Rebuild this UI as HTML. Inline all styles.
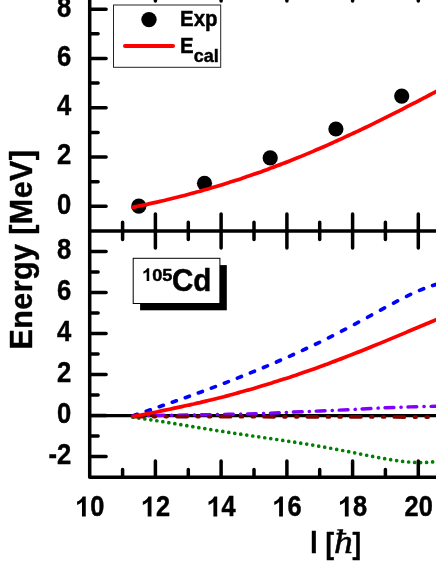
<!DOCTYPE html>
<html><head><meta charset="utf-8"><title>105Cd</title>
<style>html,body{margin:0;padding:0;background:#fff}body{width:436px;height:564px;overflow:hidden}svg{display:block;will-change:transform}</style></head>
<body>
<svg width="436" height="564" viewBox="0 0 436 564">
<rect width="436" height="564" fill="#fff"/>
<g font-family="Liberation Sans, sans-serif" font-weight="bold" fill="#000">
<g fill="none" stroke-linecap="round" stroke-linejoin="round">
<path d="M89.7 415.6H440" stroke="#000" stroke-width="3.3" stroke-linecap="butt"/>
<path d="M132.85 417.22h0.01M138.85 418.03h0.01M144.84 418.91h0.01M150.84 419.82h0.01M156.83 420.76h0.01M162.83 421.72h0.01M168.82 422.69h0.01M174.82 423.68h0.01M180.81 424.67h0.01M186.81 425.66h0.01M192.81 426.65h0.01M198.80 427.63h0.01M204.80 428.61h0.01M210.79 429.57h0.01M216.78 430.53h0.01M222.78 431.47h0.01M228.77 432.39h0.01M234.77 433.30h0.01M240.76 434.20h0.01M246.76 435.09h0.01M252.75 435.98h0.01M258.75 436.85h0.01M264.75 437.73h0.01M270.74 438.60h0.01M276.74 439.49h0.01M282.73 440.38h0.01M288.73 441.28h0.01M294.72 442.20h0.01M300.72 443.15h0.01M306.71 444.11h0.01M312.70 445.10h0.01M318.70 446.13h0.01M324.69 447.18h0.01M330.69 448.26h0.01M336.69 449.38h0.01M342.68 450.52h0.01M348.68 451.68h0.01M354.67 452.87h0.01M360.66 454.06h0.01M366.66 455.25h0.01M372.65 456.42h0.01M378.65 457.57h0.01M384.64 458.66h0.01M390.64 459.68h0.01M396.63 460.60h0.01M402.63 461.39h0.01M408.62 462.02h0.01M414.62 462.43h0.01M420.62 462.60h0.01M426.61 462.46h0.01M432.61 461.96h0.01M438.60 461.04h0.01M444.60 459.62h0.01" stroke="#008000" stroke-width="3.7"/>
<path d="M131.9 416.0 C137.4 415.9 152.3 415.5 165.0 415.3 C177.7 415.1 192.8 415.0 208.0 414.7 C223.2 414.4 242.3 414.1 256.0 413.7 C269.7 413.3 279.3 412.6 290.0 412.2 C300.7 411.8 310.0 411.4 320.0 411.0 C330.0 410.6 340.0 410.1 350.0 409.6 C360.0 409.1 370.0 408.4 380.0 408.0 C390.0 407.6 400.0 407.2 410.0 406.9 C420.0 406.6 435.0 406.3 440.0 406.2" stroke="#7f00ff" stroke-width="3.4" stroke-dasharray="8.9 7.03 0.3 6.73" stroke-dashoffset="-0.7"/>
<path d="M131.9 416.6 C143.2 416.6 175.3 416.6 200.0 416.6 C224.7 416.6 253.3 416.7 280.0 416.8 C306.7 416.9 333.3 416.9 360.0 416.9 C386.7 417.0 426.7 417.1 440.0 417.1" stroke="#800000" stroke-width="3.7" stroke-dasharray="10.1 10.0 1.8 10.0 1.8 9.75" stroke-dashoffset="-1.65"/>
<path d="M134.50 415.29L137.29 414.31M146.30 411.18L150.30 409.81M159.31 406.71L163.31 405.34M172.33 402.22L176.33 400.82M185.34 397.64L189.34 396.21M198.36 392.95L202.36 391.48M211.37 388.13L215.37 386.63M224.38 383.19L228.38 381.64M237.40 378.11L241.40 376.52M250.41 372.90L254.41 371.27M263.43 367.54L267.43 365.86M276.44 362.02L280.44 360.29M289.45 356.32L293.45 354.53M302.47 350.41L306.47 348.54M315.48 344.26L319.48 342.32M328.50 337.86L332.50 335.84M341.51 331.21L345.51 329.12M354.52 324.32L358.52 322.16M367.54 317.25L371.54 315.06M380.55 310.11L384.55 307.93M393.57 303.07L397.57 300.96M406.58 296.37L410.58 294.43M419.59 290.35L423.59 288.71M432.61 285.50L436.61 284.33M445.62 282.41L449.62 281.93" stroke="#0000ff" stroke-width="3.7"/>
<path d="M133.8 416.3 C134.8 416.1 137.8 415.5 139.8 415.2 C141.8 414.8 143.8 414.4 145.8 414.0 C147.8 413.6 149.8 413.2 151.8 412.8 C153.8 412.5 155.8 412.1 157.8 411.7 C159.8 411.3 161.8 410.9 163.8 410.4 C165.8 410.0 167.8 409.6 169.8 409.2 C171.8 408.8 173.8 408.4 175.8 407.9 C177.8 407.5 179.8 407.1 181.8 406.6 C183.8 406.2 185.8 405.8 187.8 405.3 C189.8 404.9 191.8 404.4 193.8 404.0 C195.8 403.5 197.8 403.0 199.8 402.6 C201.8 402.1 203.8 401.6 205.8 401.1 C207.8 400.7 209.8 400.2 211.8 399.7 C213.8 399.2 215.8 398.7 217.8 398.2 C219.8 397.7 221.8 397.2 223.8 396.7 C225.8 396.1 227.8 395.6 229.8 395.1 C231.8 394.5 233.8 394.0 235.8 393.5 C237.8 392.9 239.8 392.4 241.8 391.8 C243.8 391.3 245.8 390.7 247.8 390.1 C249.8 389.6 251.8 389.0 253.8 388.4 C255.8 387.8 257.8 387.2 259.8 386.6 C261.8 386.0 263.8 385.4 265.8 384.8 C267.8 384.2 269.8 383.6 271.8 383.0 C273.8 382.3 275.8 381.7 277.8 381.1 C279.8 380.4 281.8 379.8 283.8 379.1 C285.8 378.5 287.8 377.8 289.8 377.2 C291.8 376.5 293.8 375.8 295.8 375.2 C297.8 374.5 299.8 373.8 301.8 373.1 C303.8 372.4 305.8 371.7 307.8 371.0 C309.8 370.3 311.8 369.6 313.8 368.9 C315.8 368.2 317.8 367.5 319.8 366.7 C321.8 366.0 323.8 365.3 325.8 364.5 C327.8 363.8 329.8 363.0 331.8 362.3 C333.8 361.6 335.8 360.8 337.8 360.0 C339.8 359.3 341.8 358.5 343.8 357.7 C345.8 357.0 347.8 356.2 349.8 355.4 C351.8 354.6 353.8 353.8 355.8 353.0 C357.8 352.3 359.8 351.5 361.8 350.7 C363.8 349.9 365.8 349.1 367.8 348.3 C369.8 347.4 371.8 346.6 373.8 345.8 C375.8 345.0 377.8 344.2 379.8 343.4 C381.8 342.5 383.8 341.7 385.8 340.9 C387.8 340.1 389.8 339.2 391.8 338.4 C393.8 337.6 395.8 336.7 397.8 335.9 C399.8 335.0 401.8 334.2 403.8 333.4 C405.8 332.5 407.8 331.7 409.8 330.8 C411.8 330.0 413.8 329.1 415.8 328.3 C417.8 327.4 419.8 326.6 421.8 325.7 C423.8 324.9 425.8 324.0 427.8 323.2 C429.8 322.4 431.8 321.5 433.8 320.7 C435.8 319.8 438.4 318.7 439.8 318.1 C441.2 317.5 441.6 317.3 442.0 317.2" stroke="#ff0000" stroke-width="3.7"/>
</g>
<circle cx="138.8" cy="206.2" r="7.6"/>
<circle cx="204.5" cy="183.3" r="7.6"/>
<circle cx="270.2" cy="157.9" r="7.6"/>
<circle cx="335.9" cy="129.0" r="7.6"/>
<circle cx="401.7" cy="96.1" r="7.6"/>
<path d="M133.0 207.3 C134.0 207.1 137.0 206.4 139.0 206.0 C141.0 205.6 143.0 205.2 145.0 204.8 C147.0 204.3 149.0 203.9 151.0 203.4 C153.0 203.0 155.0 202.6 157.0 202.1 C159.0 201.6 161.0 201.2 163.0 200.7 C165.0 200.2 167.0 199.8 169.0 199.3 C171.0 198.8 173.0 198.3 175.0 197.8 C177.0 197.3 179.0 196.8 181.0 196.3 C183.0 195.8 185.0 195.3 187.0 194.7 C189.0 194.2 191.0 193.7 193.0 193.1 C195.0 192.6 197.0 192.0 199.0 191.5 C201.0 190.9 203.0 190.4 205.0 189.8 C207.0 189.2 209.0 188.6 211.0 188.0 C213.0 187.5 215.0 186.9 217.0 186.3 C219.0 185.7 221.0 185.1 223.0 184.4 C225.0 183.8 227.0 183.2 229.0 182.6 C231.0 181.9 233.0 181.3 235.0 180.6 C237.0 180.0 239.0 179.3 241.0 178.7 C243.0 178.0 245.0 177.3 247.0 176.6 C249.0 176.0 251.0 175.3 253.0 174.6 C255.0 173.9 257.0 173.2 259.0 172.5 C261.0 171.8 263.0 171.0 265.0 170.3 C267.0 169.6 269.0 168.8 271.0 168.1 C273.0 167.4 275.0 166.6 277.0 165.8 C279.0 165.1 281.0 164.3 283.0 163.5 C285.0 162.8 287.0 162.0 289.0 161.2 C291.0 160.4 293.0 159.6 295.0 158.8 C297.0 158.0 299.0 157.2 301.0 156.4 C303.0 155.5 305.0 154.7 307.0 153.9 C309.0 153.0 311.0 152.2 313.0 151.4 C315.0 150.5 317.0 149.6 319.0 148.8 C321.0 147.9 323.0 147.1 325.0 146.2 C327.0 145.3 329.0 144.4 331.0 143.5 C333.0 142.6 335.0 141.7 337.0 140.8 C339.0 139.9 341.0 139.0 343.0 138.1 C345.0 137.2 347.0 136.2 349.0 135.3 C351.0 134.4 353.0 133.4 355.0 132.5 C357.0 131.6 359.0 130.6 361.0 129.7 C363.0 128.7 365.0 127.7 367.0 126.8 C369.0 125.8 371.0 124.8 373.0 123.9 C375.0 122.9 377.0 121.9 379.0 120.9 C381.0 119.9 383.0 118.9 385.0 117.9 C387.0 116.9 389.0 115.9 391.0 114.9 C393.0 113.9 395.0 112.9 397.0 111.9 C399.0 110.9 401.0 109.8 403.0 108.8 C405.0 107.8 407.0 106.8 409.0 105.7 C411.0 104.7 413.0 103.7 415.0 102.6 C417.0 101.6 419.0 100.5 421.0 99.5 C423.0 98.4 425.0 97.4 427.0 96.3 C429.0 95.3 431.0 94.2 433.0 93.2 C435.0 92.1 437.5 90.8 439.0 90.0 C440.5 89.2 441.5 88.6 442.0 88.4" fill="none" stroke="#ff0000" stroke-width="3.7" stroke-linecap="round"/>
<g fill="none" stroke="#000" stroke-width="3.5" stroke-linecap="round" stroke-linejoin="round">
<path d="M89.7 -5V477.3H440"/>
<path d="M89.7 230.9H440" stroke-linecap="butt"/>
<path d="M89.7 206.3H106.1M89.7 181.7H98.1M89.7 157.0H106.1M89.7 132.4H98.1M89.7 107.7H106.1M89.7 83.1H98.1M89.7 58.5H106.1M89.7 33.8H98.1M89.7 9.2H106.1M89.7 456.6H106.1M89.7 436.1H98.1M89.7 415.6H106.1M89.7 395.1H98.1M89.7 374.6H106.1M89.7 354.1H98.1M89.7 333.6H106.1M89.7 313.1H98.1M89.7 292.6H106.1M89.7 272.1H98.1M89.7 251.6H106.1M122.6 222.3V239.5M122.6 477.3V469.4M155.4 213.9V247.9M155.4 477.3V460.9M155.4 -5V1.1M188.3 222.3V239.5M188.3 477.3V469.4M221.1 213.9V247.9M221.1 477.3V460.9M221.1 -5V1.1M254.0 222.3V239.5M254.0 477.3V469.4M286.9 213.9V247.9M286.9 477.3V460.9M286.9 -5V1.1M319.7 222.3V239.5M319.7 477.3V469.4M352.6 213.9V247.9M352.6 477.3V460.9M352.6 -5V1.1M385.4 222.3V239.5M385.4 477.3V469.4M418.3 213.9V247.9M418.3 477.3V460.9M418.3 -5V1.1"/>
</g>
<rect x="113.5" y="5" width="107.2" height="62.3" fill="#fff" stroke="#222" stroke-width="1"/>
<circle cx="149" cy="19.6" r="7.7"/>
<path d="M125.0 46.1H173.0" stroke="#ff0000" stroke-width="4.0" stroke-linecap="round"/>
<text transform="translate(180.1 26.1) scale(0.955 1)" font-size="21.4px" text-anchor="start" stroke="#000" stroke-width="0.45" stroke-linejoin="round">Exp</text>
<text transform="translate(180.1 53.0) scale(0.955 1)" font-size="21.4px" text-anchor="start" stroke="#000" stroke-width="0.45" stroke-linejoin="round">E</text>
<text transform="translate(193.8 61.8) scale(1.030 1)" font-size="17.5px" text-anchor="start" stroke="#000" stroke-width="0.45" stroke-linejoin="round">cal</text>
<rect x="140.1" y="265.1" width="86.7" height="45.2" fill="#000"/>
<rect x="133.2" y="258.3" width="86.7" height="45.2" fill="#fff" stroke="#000" stroke-width="1"/>
<path transform="translate(141.90 281.00) scale(0.00908 -0.00859)" d="M806 0H525V1059Q371 915 162 846V1101Q272 1137 401 1237.5T578 1472H806Z"/>
<text transform="translate(152.3 280.9) scale(1.060 1)" font-size="17.1px" text-anchor="start" stroke="#000" stroke-width="0.45" stroke-linejoin="round">05</text>
<text transform="translate(172.0 291.3) scale(0.964 1)" font-size="30.7px" text-anchor="start" stroke="#000" stroke-width="0.45" stroke-linejoin="round">Cd</text>
<text transform="translate(71.2 16.5) scale(0.870 1)" font-size="29.4px" text-anchor="end" stroke="#000" stroke-width="0.45" stroke-linejoin="round">8</text>
<text transform="translate(71.2 65.8) scale(0.870 1)" font-size="29.4px" text-anchor="end" stroke="#000" stroke-width="0.45" stroke-linejoin="round">6</text>
<text transform="translate(71.2 115.0) scale(0.870 1)" font-size="29.4px" text-anchor="end" stroke="#000" stroke-width="0.45" stroke-linejoin="round">4</text>
<text transform="translate(71.2 164.3) scale(0.870 1)" font-size="29.4px" text-anchor="end" stroke="#000" stroke-width="0.45" stroke-linejoin="round">2</text>
<text transform="translate(71.2 213.6) scale(0.870 1)" font-size="29.4px" text-anchor="end" stroke="#000" stroke-width="0.45" stroke-linejoin="round">0</text>
<text transform="translate(71.2 258.6) scale(0.870 1)" font-size="29.4px" text-anchor="end" stroke="#000" stroke-width="0.45" stroke-linejoin="round">8</text>
<text transform="translate(71.2 299.6) scale(0.870 1)" font-size="29.4px" text-anchor="end" stroke="#000" stroke-width="0.45" stroke-linejoin="round">6</text>
<text transform="translate(71.2 340.6) scale(0.870 1)" font-size="29.4px" text-anchor="end" stroke="#000" stroke-width="0.45" stroke-linejoin="round">4</text>
<text transform="translate(71.2 381.6) scale(0.870 1)" font-size="29.4px" text-anchor="end" stroke="#000" stroke-width="0.45" stroke-linejoin="round">2</text>
<text transform="translate(71.2 422.6) scale(0.870 1)" font-size="29.4px" text-anchor="end" stroke="#000" stroke-width="0.45" stroke-linejoin="round">0</text>
<text transform="translate(71.2 463.6) scale(0.870 1)" font-size="29.4px" text-anchor="end" stroke="#000" stroke-width="0.45" stroke-linejoin="round">-2</text>
<path transform="translate(74.90 516.40) scale(0.01348 -0.01348)" d="M806 0H525V1059Q371 915 162 846V1101Q272 1137 401 1237.5T578 1472H806Z"/>
<text transform="translate(90.2 516.3) scale(0.875 1)" font-size="29.0px" text-anchor="start" stroke="#000" stroke-width="0.45" stroke-linejoin="round">0</text>
<path transform="translate(140.62 516.40) scale(0.01348 -0.01348)" d="M806 0H525V1059Q371 915 162 846V1101Q272 1137 401 1237.5T578 1472H806Z"/>
<text transform="translate(155.9 516.3) scale(0.875 1)" font-size="29.0px" text-anchor="start" stroke="#000" stroke-width="0.45" stroke-linejoin="round">2</text>
<path transform="translate(206.34 516.40) scale(0.01348 -0.01348)" d="M806 0H525V1059Q371 915 162 846V1101Q272 1137 401 1237.5T578 1472H806Z"/>
<text transform="translate(221.6 516.3) scale(0.875 1)" font-size="29.0px" text-anchor="start" stroke="#000" stroke-width="0.45" stroke-linejoin="round">4</text>
<path transform="translate(272.06 516.40) scale(0.01348 -0.01348)" d="M806 0H525V1059Q371 915 162 846V1101Q272 1137 401 1237.5T578 1472H806Z"/>
<text transform="translate(287.4 516.3) scale(0.875 1)" font-size="29.0px" text-anchor="start" stroke="#000" stroke-width="0.45" stroke-linejoin="round">6</text>
<path transform="translate(337.78 516.40) scale(0.01348 -0.01348)" d="M806 0H525V1059Q371 915 162 846V1101Q272 1137 401 1237.5T578 1472H806Z"/>
<text transform="translate(353.1 516.3) scale(0.875 1)" font-size="29.0px" text-anchor="start" stroke="#000" stroke-width="0.45" stroke-linejoin="round">8</text>
<text transform="translate(418.7 516.3) scale(0.875 1)" font-size="29.0px" text-anchor="middle" stroke="#000" stroke-width="0.45" stroke-linejoin="round">20</text>
<text transform="translate(31.6 349.4) rotate(-90)" font-size="30.5px" letter-spacing="0.4" stroke="#000" stroke-width="0.4" stroke-linejoin="round">Energy [MeV]</text>
<text transform="translate(310.2 553.0) scale(0.850 1)" font-size="30.7px" text-anchor="start" stroke="#000" stroke-width="0.45" stroke-linejoin="round">I</text>
<text transform="translate(325.5 553.7) scale(0.870 1)" font-size="29.6px" text-anchor="start" stroke="#000" stroke-width="0.45" stroke-linejoin="round">[</text>
<text transform="translate(333.9 553.0) scale(1.107 1)" font-size="34px" font-family="Liberation Serif, serif" font-weight="normal" font-style="italic" stroke="#000" stroke-width="0.5">ħ</text>
<text transform="translate(352.4 553.7) scale(0.870 1)" font-size="29.6px" text-anchor="start" stroke="#000" stroke-width="0.45" stroke-linejoin="round">]</text>
</g></svg>
</body></html>
